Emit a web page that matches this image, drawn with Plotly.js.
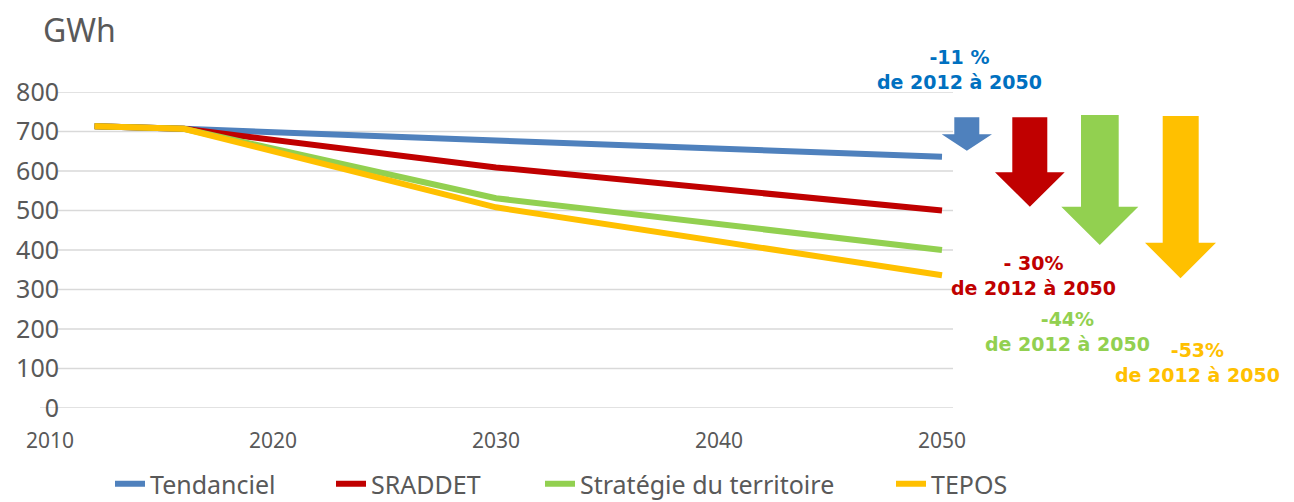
<!DOCTYPE html>
<html>
<head>
<meta charset="utf-8">
<script src="https://cdn.plot.ly/plotly-3.0.1.min.js"></script>
<style>html,body{margin:0;padding:0;background:#fff;}</style>
</head>
<body>
<div id="chart" style="width:1294px;height:502px;"></div>
<script>
// ---- data ----
const years = [2012, 2016, 2030, 2050];
const seriesNames = ["Tendanciel", "SRADDET", "Stratégie du territoire", "TEPOS"];
const tendanciel = [713, 707, 677, 636];
const sraddet = [713, 707, 609, 500];
const strategie = [713, 707, 531, 400];
const tepos = [713, 707, 508, 336];
const xTicks = [2010, 2020, 2030, 2040, 2050];
const yTicks = [0, 100, 200, 300, 400, 500, 600, 700, 800];
const changeLabels = ["-11 %", "- 30%", "-44%", "-53%"];
const periodLabel = "de 2012 à 2050";

// ---- style ----
const colors = ["#4F81BD", "#C00000", "#92D050", "#FFC000"];
const textColors = ["#0070C0", "#C00000", "#92D050", "#FFC000"];
const grey = "#595959";
const FONT = "Noto Sans, Liberation Sans, Arial, sans-serif";
const BOLDFONT = "DejaVu Sans, Verdana, sans-serif";

const W = 1294, H = 502;
const L = 50, R = 953, T = 92, B = 408;
const pw = R - L, ph = B - T;
const px = x => (x - L) / pw;
const py = y => (B - y) / ph;

const allSeries = [tendanciel, sraddet, strategie, tepos];
const legendIds = ["legend", "legend2", "legend3", "legend4"];
const traces = allSeries.map((vals, i) => ({
  type: "scatter", mode: "lines", x: years, y: vals, name: seriesNames[i],
  line: {color: colors[i], width: 6},
  legend: legendIds[i], hoverinfo: "skip"
}));

// grid lines built from the y tick values
const shapes = yTicks.map(v => ({
  type: "line", layer: "below", xref: "paper", yref: "y",
  x0: v === 0 ? px(40) : px(58), x1: 1, y0: v, y1: v,
  line: {color: "#D9D9D9", width: 1.5}
}));

// decorative arrows (pixel geometry -> paper)
function arrow(sl, sr, st, hl, hr, ht, tipY, color) {
  const tipX = (hl + hr) / 2;
  const pts = [[sl, st], [sr, st], [sr, ht], [hr, ht], [tipX, tipY], [hl, ht], [sl, ht]];
  const d = "M" + pts.map(p => px(p[0]).toFixed(5) + "," + py(p[1]).toFixed(5)).join(" L") + " Z";
  return {type: "path", xref: "paper", yref: "paper", path: d, fillcolor: color, line: {width: 0}, layer: "above"};
}
shapes.push(arrow(954.3, 979.3, 117.3, 941.7, 992, 134.3, 150.7, colors[0]));
shapes.push(arrow(1012.3, 1047.3, 117.3, 995, 1064.7, 172.3, 206.7, colors[1]));
shapes.push(arrow(1081, 1118.7, 115, 1061.3, 1138.3, 206.7, 245, colors[2]));
shapes.push(arrow(1162.7, 1198.7, 116, 1145, 1216, 242.7, 278.3, colors[3]));

const labelPos = [
  [959.5, 69],
  [1033.5, 275.5],
  [1067.5, 331.5],
  [1197, 362.5]
];
const annotations = labelPos.map((p, i) => ({
  xref: "paper", yref: "paper", x: px(p[0]), y: py(p[1]), xanchor: "center", yanchor: "middle",
  text: "<b>" + changeLabels[i] + "<br>" + periodLabel + "</b>", showarrow: false, align: "center",
  font: {family: BOLDFONT, size: 19, color: textColors[i]}
}));

const legendLeft = [110, 331, 540, 891];
const legendCfg = {};
legendIds.forEach((id, i) => {
  legendCfg[id] = {
    orientation: "h", x: px(legendLeft[i]), y: py(484), xanchor: "left", yanchor: "middle",
    xref: "paper", yref: "paper", bgcolor: "rgba(0,0,0,0)", borderwidth: 0,
    font: {family: FONT, size: 25, color: grey}
  };
});

const layout = Object.assign({
  width: W, height: H,
  margin: {l: L, r: W - R, t: T, b: H - B, pad: 0, autoexpand: false},
  paper_bgcolor: "#ffffff", plot_bgcolor: "#ffffff",
  showlegend: true,
  title: {text: "GWh", xref: "container", yref: "container", x: 43 / W, xanchor: "left",
          y: 1 - 31 / H, yanchor: "middle", font: {family: FONT, size: 32, color: grey}},
  xaxis: {range: [2010, 2050 + 11 / 22.3], tickvals: xTicks, ticktext: xTicks.map(String),
          showgrid: false, zeroline: false, showline: false, ticks: "",
          tickfont: {family: FONT, size: 21, color: grey}, ticklabelstandoff: 18, automargin: false},
  yaxis: {range: [0, 800], tickvals: yTicks, ticktext: yTicks.map(String),
          showgrid: false, zeroline: false, showline: false, ticks: "",
          tickfont: {family: FONT, size: 25, color: grey}, ticklabelstandoff: -10, automargin: false},
  shapes: shapes,
  annotations: annotations
}, legendCfg);

Plotly.newPlot("chart", traces, layout, {displayModeBar: false, staticPlot: true});
</script>
</body>
</html>
